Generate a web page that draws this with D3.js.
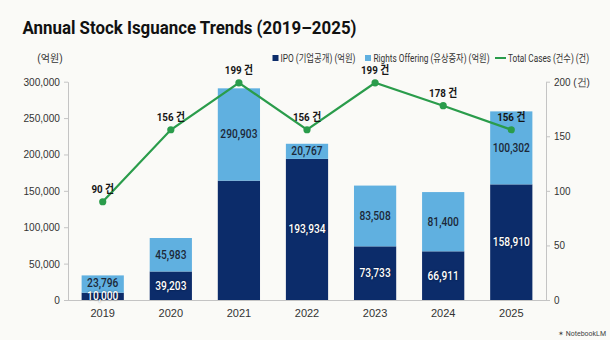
<!DOCTYPE html>
<html>
<head>
<meta charset="UTF-8">
<title>Annual Stock Issuance Trends</title>
<script src="https://cdn.jsdelivr.net/npm/d3@7"></script>
<style>
  body { margin: 0; background: #fafaf7; }
  svg { display: block; font-family: Roboto, "Noto Sans CJK KR", sans-serif; }
</style>
</head>
<body>
<svg id="chart" width="610" height="340"></svg>
<script>
// Data (억원 / 건)
var years = ["2019", "2020", "2021", "2022", "2023", "2024", "2025"];
var ipo = [10000, 39203, 164000, 193934, 73733, 66911, 158910];
var rights = [23796, 45983, 126903, 20767, 83508, 81400, 100302];
var cases = [90, 156, 199, 156, 199, 178, 156];
// 2021: IPO part unlabelled, upper label carries the year total
var ipoLabelShown = [true, true, false, true, true, true, true];
var rightsLabelIsTotal = [false, false, true, false, false, false, false];
var leftTicks = [0, 50000, 100000, 150000, 200000, 250000, 300000];
var rightTicks = [0, 50, 100, 150, 200];

var colDark = "#0c2c6a",
    colLight = "#60b0e0",
    colLine = "#2a9c4b",
    colAxis = "#c4c4c4",
    colText = "#333";

var svg = d3.select("#chart");

// squeeze text horizontally, the chart uses a narrow face
function condense(sel, k) {
  sel.each(function() {
    var w = this.getComputedTextLength();
    d3.select(this).attr("textLength", w * k).attr("lengthAdjust", "spacingAndGlyphs");
  });
}

// Title
svg.append("text")
  .attr("x", 22.5).attr("y", 33.5)
  .attr("font-size", 19).attr("font-weight", 700).attr("fill", "#111")
  .attr("textLength", 334).attr("lengthAdjust", "spacingAndGlyphs")
  .text("Annual Stock Isguance Trends (2019\u20132025)");

// Scales
var x = d3.scaleBand().domain(years).range([68, 546]).paddingInner(0.38).paddingOuter(0.2);
var y = d3.scaleLinear().domain([0, 300000]).range([300, 81.7]);
var yR = d3.scaleLinear().domain([0, 200]).range([300, 81.7]);

var rows = years.map(function(yr, i) {
  return { year: yr, ipo: ipo[i], rights: rights[i], i: i };
});
var stack = d3.stack().keys(["ipo", "rights"])(rows);

// Bars
svg.append("g").selectAll("g")
  .data(stack)
  .enter().append("g")
    .attr("fill", function(d) { return d.key === "ipo" ? colDark : colLight; })
  .selectAll("rect")
  .data(function(d) { return d; })
  .enter().append("rect")
    .attr("x", function(d) { return x(d.data.year); })
    .attr("width", x.bandwidth())
    .attr("y", function(d) { return y(d[1]); })
    .attr("height", function(d) { return y(d[0]) - y(d[1]); });

// Axes
var gl = svg.append("g").attr("transform", "translate(68,0)")
  .call(d3.axisLeft(y).tickValues(leftTicks).tickSize(4).tickSizeOuter(0).tickPadding(4)
    .tickFormat(d3.format(",")));
var gr = svg.append("g").attr("transform", "translate(546,0)")
  .call(d3.axisRight(yR).tickValues(rightTicks).tickSize(4).tickSizeOuter(0).tickPadding(4)
    .tickFormat(function(d) { return d === 200 ? "200 (\uac74)" : d; }));
var gb = svg.append("g").attr("transform", "translate(0,300)")
  .call(d3.axisBottom(x).tickSize(0).tickSizeOuter(0).tickPadding(9));

[gl, gr, gb].forEach(function(g) {
  g.select(".domain").attr("stroke", colAxis);
  g.selectAll(".tick line").attr("stroke", colAxis);
  g.selectAll("text").attr("font-size", 11).attr("fill", colText).attr("font-family", null);
});
gb.select(".domain").attr("d", "M64,0.5H546");
condense(gl.selectAll("text"), 0.92);
condense(gr.selectAll("text"), 0.9);

svg.append("text")
  .attr("x", 50).attr("y", 61.5).attr("text-anchor", "middle")
  .attr("font-size", 10).attr("fill", colText)
  .text("(\uc5b5\uc6d0)");

// Segment labels
var labels = svg.append("g").attr("font-size", 12).attr("font-weight", 500).attr("text-anchor", "middle");
rows.forEach(function(r, i) {
  var cx = x(r.year) + x.bandwidth() / 2;
  var darkY = (y(0) + y(r.ipo)) / 2 + 4;
  if (ipoLabelShown[i]) {
    labels.append("text")
      .attr("x", cx).attr("y", darkY)
      .attr("fill", "#fff")
      .style("text-shadow", "0 0 2px rgba(0,0,0,0.6)")
      .text(d3.format(",")(r.ipo));
  }
  var top = r.ipo + r.rights;
  var lightY = Math.min((y(r.ipo) + y(top)) / 2 + 4, darkY - 13);
  labels.append("text")
    .attr("x", cx).attr("y", lightY)
    .attr("fill", "#1c2838")
    .text(d3.format(",")(rightsLabelIsTotal[i] ? top : r.rights));
});
condense(labels.selectAll("text"), 0.85);

// Total cases line
var line = d3.line()
  .x(function(d, i) { return x(years[i]) + x.bandwidth() / 2; })
  .y(function(d) { return yR(d); });

svg.append("path")
  .datum(cases)
  .attr("d", line)
  .attr("fill", "none")
  .attr("stroke", colLine)
  .attr("stroke-width", 2.2);

svg.append("g").selectAll("circle")
  .data(cases)
  .enter().append("circle")
    .attr("cx", function(d, i) { return x(years[i]) + x.bandwidth() / 2; })
    .attr("cy", function(d) { return yR(d); })
    .attr("r", 3.6)
    .attr("fill", colLine);

var caseLabels = svg.append("g").selectAll("text")
  .data(cases)
  .enter().append("text")
    .attr("x", function(d, i) { return x(years[i]) + x.bandwidth() / 2; })
    .attr("y", function(d) { return yR(d) - 8.5; })
    .attr("text-anchor", "middle")
    .attr("font-size", 11.5).attr("font-weight", 700).attr("fill", "#151515")
    .text(function(d) { return d + " \uac74"; });
condense(caseLabels, 0.85);

// Legend
var legend = svg.append("g").attr("font-size", 10).attr("fill", colText);
legend.append("rect").attr("x", 272.5).attr("y", 55).attr("width", 6).attr("height", 6).attr("fill", colDark);
legend.append("text").attr("x", 280.5).attr("y", 61.5)
  .attr("textLength", 75).attr("lengthAdjust", "spacingAndGlyphs")
  .text("IPO (\uae30\uc5c5\uacf5\uac1c) (\uc5b5\uc6d0)");
legend.append("rect").attr("x", 365).attr("y", 55).attr("width", 6).attr("height", 6).attr("fill", colLight);
legend.append("text").attr("x", 373.5).attr("y", 61.5)
  .attr("textLength", 116).attr("lengthAdjust", "spacingAndGlyphs")
  .text("Rights Offering (\uc720\uc0c1\uc99d\uc790) (\uc5b5\uc6d0)");
legend.append("line").attr("x1", 495).attr("x2", 506).attr("y1", 58).attr("y2", 58)
  .attr("stroke", colLine).attr("stroke-width", 2);
legend.append("text").attr("x", 508).attr("y", 61.5)
  .attr("textLength", 81).attr("lengthAdjust", "spacingAndGlyphs")
  .text("Total Cases (\uac74\uc218) (\uac74)");

// Footer mark
svg.append("text")
  .attr("x", 606).attr("y", 336).attr("text-anchor", "end")
  .attr("font-size", 7).attr("fill", "#444")
  .text("\u2736 NotebookLM");
</script>
</body>
</html>
